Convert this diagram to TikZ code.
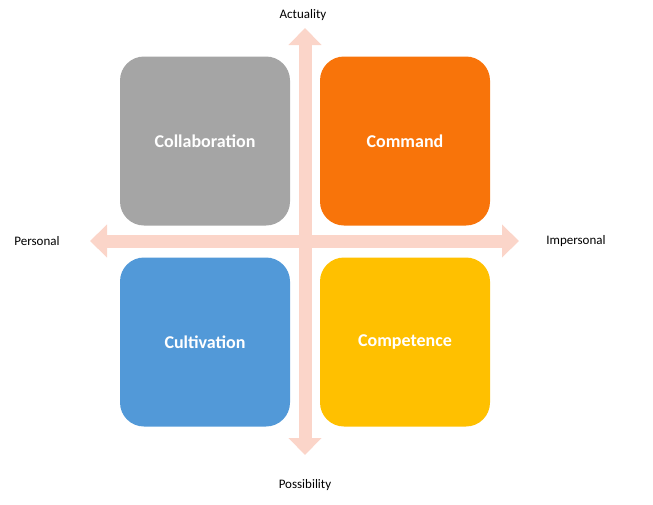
\documentclass[tikz,border=0pt]{standalone}
\usepackage{fontspec}
\setmainfont{Carlito}
\usetikzlibrary{arrows.meta}
\definecolor{cgray}{HTML}{A5A5A5}
\definecolor{corange}{HTML}{F8740A}
\definecolor{cblue}{HTML}{5299D8}
\definecolor{cyellow}{HTML}{FFC000}
\definecolor{carrow}{HTML}{FBD5C9}
\begin{document}
\begin{tikzpicture}[x=1pt,y=-1pt,
  quad/.style={rounded corners=24pt,minimum width=170pt,minimum height=169pt,inner sep=0pt,text=white,font=\fontsize{18}{20}\selectfont\bfseries},
  axis/.style={carrow,line width=13pt,{Triangle[length=17pt,width=32pt]}-{Triangle[length=17pt,width=32pt]}},
  lab/.style={font=\fontsize{13}{15}\selectfont}]
\useasboundingbox (0,0) rectangle (653,504);
\coordinate (l) at (90,241);
\coordinate (r) at (519,241);
\coordinate (t) at (305,28);
\coordinate (b) at (305,455);
\draw[axis] (l) -- (r);
\draw[axis] (t) -- (b);
\node[quad,fill=cgray] (col) at (205,141) {Collaboration};
\node[quad,fill=corange] (com) at (405,141) {Command};
\node[quad,fill=cblue] (cul) at (205,342) {Cultivation};
\node[quad,fill=cyellow] (cmp) at (405,342) {Competence};
\node[lab] (act) at (303,15) {Actuality};
\node[lab] (pos) at (305,485) {Possibility};
\node[lab] (per) at (37,241) {Personal};
\node[lab] (imp) at (576,241) {Impersonal};
\end{tikzpicture}
\end{document}
